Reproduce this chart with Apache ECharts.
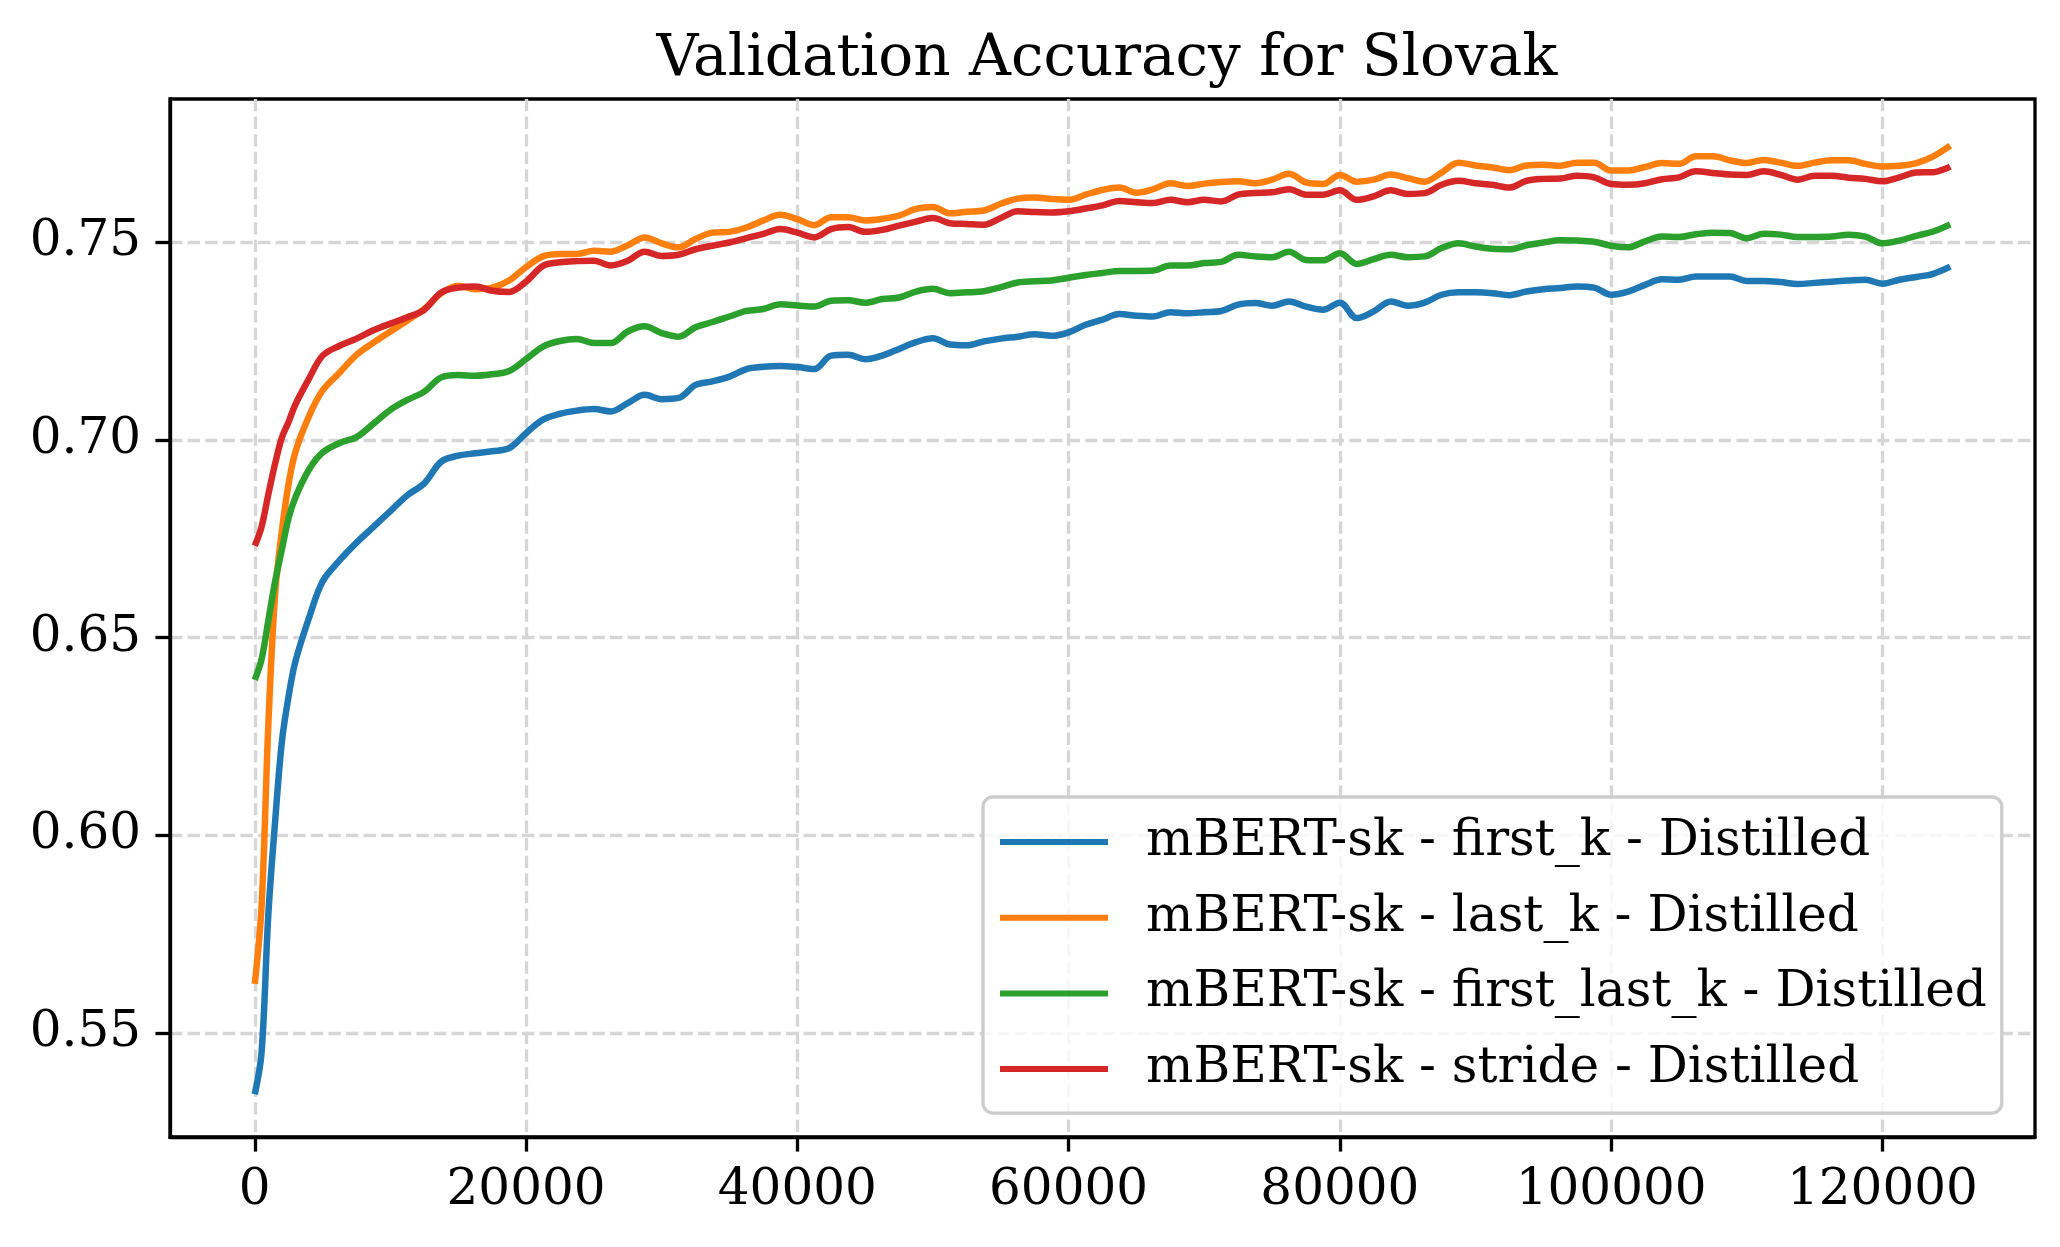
<!DOCTYPE html>
<html>
<head>
<meta charset="utf-8">
<script src="https://cdn.jsdelivr.net/npm/echarts@6/dist/echarts.min.js"></script>
<style>
html,body{margin:0;padding:0;background:#fff;}
#chart{width:2060px;height:1247px;}
</style>
</head>
<body>
<div id="chart"></div>
<script>
var titleText = "Validation Accuracy for Slovak";
var seriesNames = [
  "mBERT-sk - first_k - Distilled",
  "mBERT-sk - last_k - Distilled",
  "mBERT-sk - first_last_k - Distilled",
  "mBERT-sk - stride - Distilled"
];
var seriesColors = ["#1f77b4", "#ff7f0e", "#2ca02c", "#d62728"];
var xTicks = [0, 20000, 40000, 60000, 80000, 100000, 120000];
var yTicks = [0.55, 0.60, 0.65, 0.70, 0.75];

var steps = [
  0, 500, 1000, 1500, 2000, 2500, 3000, 4000, 5000, 6250,
  7500, 8750, 10000, 11250, 12500, 13750, 15000, 16250, 17500, 18750,
  20000, 21250, 22500, 23750, 25000, 26250, 27500, 28750, 30000, 31250,
  32500, 33750, 35000, 36250, 37500, 38750, 40000, 41250, 42500, 43750,
  45000, 46250, 47500, 48750, 50000, 51250, 52500, 53750, 55000, 56250,
  57500, 58750, 60000, 61250, 62500, 63750, 65000, 66250, 67500, 68750,
  70000, 71250, 72500, 73750, 75000, 76250, 77500, 78750, 80000, 81250,
  82500, 83750, 85000, 86250, 87500, 88750, 90000, 91250, 92500, 93750,
  95000, 96250, 97500, 98750, 100000, 101250, 102500, 103750, 105000, 106250,
  107500, 108750, 110000, 111250, 112500, 113750, 115000, 116250, 117500, 118750,
  120000, 121250, 122500, 123750, 125000
];

var firstK = [
  0.5345, 0.545, 0.580, 0.6035, 0.6237, 0.6353, 0.644, 0.655, 0.6642, 0.6695,
  0.674, 0.678, 0.682, 0.686, 0.689, 0.6945, 0.696, 0.6966, 0.6971, 0.6979,
  0.7017, 0.7051, 0.7066, 0.7074, 0.7078, 0.7072, 0.7093, 0.7114, 0.7103, 0.7106,
  0.7139, 0.7148, 0.716, 0.7179, 0.7185, 0.7187, 0.7184, 0.7179, 0.7213, 0.7215,
  0.7204, 0.7213, 0.723, 0.7247, 0.7257, 0.7241, 0.7239, 0.7249, 0.7256, 0.7261,
  0.7267, 0.7263, 0.7272, 0.7291, 0.7304, 0.7318, 0.7314, 0.7312, 0.7323, 0.732,
  0.7323, 0.7326, 0.7342, 0.7346, 0.7339, 0.735, 0.7337, 0.7329, 0.7347, 0.7308,
  0.7325, 0.735, 0.7339, 0.7347, 0.7367, 0.7373, 0.7373, 0.7371, 0.7366, 0.7375,
  0.7381, 0.7384, 0.7388, 0.7385, 0.7367, 0.7375, 0.7392, 0.7406, 0.7405, 0.7413,
  0.7413, 0.7413, 0.7402, 0.7402, 0.7399, 0.7394, 0.7397, 0.74, 0.7403, 0.7405,
  0.7395, 0.7405, 0.7412, 0.742, 0.7438
];

var lastK = [
  0.5624, 0.582, 0.628, 0.661, 0.677, 0.689, 0.697, 0.706, 0.7125, 0.717,
  0.7215, 0.7246, 0.7274, 0.7302, 0.7331, 0.7371, 0.739, 0.7381, 0.7385, 0.7403,
  0.7437, 0.7464, 0.747, 0.747, 0.7478, 0.7476, 0.7492, 0.7512, 0.7497, 0.7487,
  0.7508, 0.7524, 0.7526, 0.7537, 0.7555, 0.7569, 0.7558, 0.7543, 0.7563, 0.7563,
  0.7555, 0.7559, 0.7567, 0.7584, 0.7589, 0.7573, 0.7577, 0.758, 0.7597, 0.761,
  0.7613, 0.7609, 0.7607, 0.762, 0.7632, 0.7638, 0.7625, 0.7634, 0.7649, 0.7642,
  0.7648, 0.7652, 0.7654, 0.7649, 0.7658, 0.7673, 0.7651, 0.7647, 0.767, 0.7653,
  0.7658, 0.7671, 0.7662, 0.7653, 0.7676, 0.7701, 0.7694, 0.7689, 0.7682, 0.7694,
  0.7696, 0.7693, 0.7701, 0.7701, 0.7681, 0.7681, 0.769, 0.77, 0.7698, 0.7717,
  0.7717, 0.7707, 0.77, 0.7708, 0.7701, 0.7693, 0.7701, 0.7707, 0.7707, 0.7698,
  0.7691, 0.7693, 0.77, 0.7717, 0.7744
];

var firstLastK = [
  0.6393, 0.6445, 0.6543, 0.6642, 0.6723, 0.6803, 0.6855, 0.6925, 0.6968, 0.6992,
  0.7007, 0.7041, 0.7076, 0.7101, 0.7122, 0.7158, 0.7164, 0.7162, 0.7166, 0.7174,
  0.7204, 0.7236, 0.725, 0.7255, 0.7245, 0.7245, 0.7274, 0.7287, 0.727, 0.7261,
  0.7285, 0.7298, 0.7312, 0.7326, 0.7331, 0.7343, 0.734, 0.7337, 0.7352, 0.7353,
  0.7347, 0.7356, 0.736, 0.7375, 0.7382, 0.7371, 0.7373, 0.7376, 0.7386, 0.7398,
  0.7401, 0.7403, 0.741, 0.7417, 0.7422, 0.7427, 0.7427, 0.7428, 0.7441, 0.7441,
  0.7447, 0.745, 0.7468, 0.7464, 0.7462, 0.7476, 0.7455, 0.7454, 0.7472, 0.7445,
  0.7457, 0.7468, 0.7462, 0.7464, 0.7485, 0.7497, 0.7489, 0.7483, 0.7482, 0.7492,
  0.7499, 0.7505, 0.7504, 0.7501, 0.7491, 0.7487, 0.7502, 0.7514, 0.7513, 0.752,
  0.7524, 0.7523, 0.751, 0.7521, 0.7519, 0.7513, 0.7513, 0.7514, 0.7519, 0.7514,
  0.7497, 0.7504, 0.7516, 0.7527, 0.7545
];

var stride = [
  0.6732, 0.678, 0.6862, 0.694, 0.7006, 0.7046, 0.709, 0.7155, 0.7213, 0.7238,
  0.7256, 0.7277, 0.7294, 0.731, 0.7329, 0.7373, 0.7385, 0.7388, 0.7377, 0.7374,
  0.74, 0.744, 0.7449, 0.7452, 0.7453, 0.7441, 0.7453, 0.7476, 0.7465, 0.7468,
  0.7482, 0.7491, 0.7499, 0.751, 0.7521, 0.7533, 0.7524, 0.7512, 0.7533, 0.7538,
  0.7526, 0.7531, 0.7542, 0.7552, 0.7561, 0.7548, 0.7546, 0.7544, 0.7561, 0.7578,
  0.7576, 0.7575, 0.7578, 0.7585, 0.7593, 0.7604, 0.7601, 0.7599, 0.7607, 0.7601,
  0.7607, 0.7603, 0.762, 0.7624, 0.7626, 0.7634, 0.762, 0.762, 0.7631, 0.7607,
  0.7616, 0.7631, 0.7622, 0.7624, 0.7645, 0.7655, 0.7649, 0.7645, 0.7638, 0.7655,
  0.766, 0.7661, 0.7668, 0.7664, 0.7647, 0.7645, 0.7649, 0.7659, 0.7664, 0.7679,
  0.7675, 0.7671, 0.767, 0.7679, 0.767, 0.7658, 0.7668, 0.7668, 0.7663, 0.766,
  0.7654, 0.7664, 0.7676, 0.7677, 0.7691
];

var allValues = [firstK, lastK, firstLastK, stride];

var FONT = "'DejaVu Serif', serif";
var LW = 3.3;

function pairs(vals) {
  var out = [];
  for (var i = 0; i < steps.length && i < vals.length; i++) out.push([steps[i], vals[i]]);
  return out;
}

var series = [];
for (var k = 0; k < seriesNames.length; k++) {
  series.push({
    name: seriesNames[k],
    type: 'line',
    data: pairs(allValues[k]),
    smooth: 0.35,
    showSymbol: false,
    symbol: 'none',
    lineStyle: { color: seriesColors[k], width: 6.5 },
    itemStyle: { color: seriesColors[k] },
    z: 3 + k
  });
}

var chart = echarts.init(document.getElementById('chart'), null, { renderer: 'canvas' });
chart.setOption({
  animation: false,
  backgroundColor: '#ffffff',
  color: seriesColors,
  title: {
    text: titleText,
    left: 1102,
    top: 26,
    textAlign: 'center',
    textStyle: { fontFamily: FONT, fontSize: 58, fontWeight: 'normal', color: '#000', lineHeight: 58 }
  },
  grid: {
    left: 170, right: 25, top: 99, bottom: 110,
    show: true, borderColor: '#000', borderWidth: LW, backgroundColor: 'transparent'
  },
  legend: {
    orient: 'vertical',
    left: 983,
    top: 797,
    padding: [20, 15, 19, 17],
    itemWidth: 108,
    itemHeight: 6,
    itemGap: 25.7,
    icon: 'rect',
    data: seriesNames,
    backgroundColor: 'rgba(255,255,255,0.8)',
    borderColor: '#cccccc',
    borderWidth: LW,
    borderRadius: 10,
    textStyle: { fontFamily: FONT, fontSize: 50, color: '#000', lineHeight: 50, padding: [0, 0, 0, 33] }
  },
  xAxis: {
    type: 'value',
    min: -6250,
    max: 131250,
    axisLine: { show: true, onZero: false, lineStyle: { color: '#000', width: LW } },
    axisTick: { show: true, inside: false, length: 14.6, customValues: xTicks, lineStyle: { color: '#000', width: LW } },
    axisLabel: { show: true, customValues: xTicks, margin: 29, fontFamily: FONT, fontSize: 50, color: '#000',
      formatter: function (v) { return String(Math.round(v)); } },
    splitLine: { show: true, lineStyle: { color: '#d6d6d6', width: LW, type: [12.3, 5.3] } }
  },
  yAxis: {
    type: 'value',
    min: 0.5237,
    max: 0.7862,
    axisLine: { show: true, onZero: false, lineStyle: { color: '#000', width: LW } },
    axisTick: { show: true, inside: false, length: 14.6, customValues: yTicks, lineStyle: { color: '#000', width: LW } },
    axisLabel: { show: true, customValues: yTicks, margin: 29, fontFamily: FONT, fontSize: 50, color: '#000',
      formatter: function (v) { return v.toFixed(2); } },
    splitLine: { show: true, lineStyle: { color: '#d6d6d6', width: LW, type: [12.3, 5.3] } }
  },
  series: series
});
</script>
</body>
</html>
